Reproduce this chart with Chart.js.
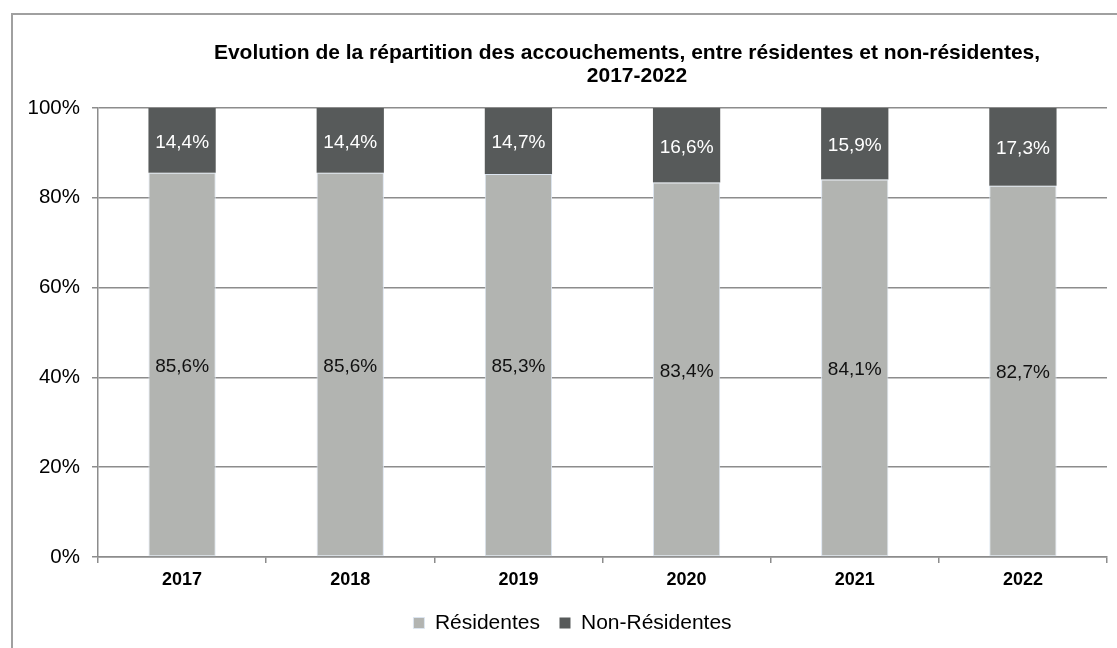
<!DOCTYPE html>
<html>
<head>
<meta charset="utf-8">
<script src="https://cdn.jsdelivr.net/npm/chart.js@4.4.0/dist/chart.umd.min.js"></script>
<style>
    body { margin: 0; background: #fff; }
    .cadre { position: absolute; left: 11px; top: 13px; width: 1120px; height: 650px; border-left: 2px solid #a0a0a0; border-top: 2px solid #a0a0a0; }
    .zone { position: absolute; left: 0; top: 0; width: 1117px; height: 648px; }
</style>
</head>
<body>
<div class="cadre"></div>
<div class="zone"><canvas class="accouchementsChart"></canvas></div>
<script>
const annees = ['2017', '2018', '2019', '2020', '2021', '2022'];
const residentes = [85.6, 85.6, 85.3, 83.4, 84.1, 82.7];
const nonResidentes = [14.4, 14.4, 14.7, 16.6, 15.9, 17.3];
const graduations = [0, 20, 40, 60, 80, 100];
const titreLignes = ['Evolution de la répartition des accouchements, entre résidentes et non-résidentes,', '2017-2022'];

const police = '"Liberation Sans", Arial, sans-serif';
const chartDOM = document.querySelector('.accouchementsChart');

const formatPourcent = (v) => v.toFixed(1).replace('.', ',') + '%';

// titre dessiné à la main pour le décaler comme dans Excel
const titrePlugin = {
    id: 'titre',
    afterLayout(chart) {
        // légende centrée sur la zone du graphique, pas sur tout le canvas
        if (chart.legend) {
            chart.legend.left += 38;
        }
    },
    afterDraw(chart) {
        const ctx = chart.ctx;
        ctx.save();
        ctx.fillStyle = '#000';
        ctx.font = 'bold 21px ' + police;
        ctx.textAlign = 'center';
        ctx.textBaseline = 'alphabetic';
        ctx.fillText(titreLignes[0], 627, 59);
        ctx.fillText(titreLignes[1], 637, 82);
        ctx.restore();
    }
};

// étiquettes de valeurs au centre de chaque segment
const etiquettesPlugin = {
    id: 'etiquettes',
    afterDatasetsDraw(chart) {
        const ctx = chart.ctx;
        ctx.save();
        ctx.font = '19px ' + police;
        ctx.textAlign = 'center';
        ctx.textBaseline = 'middle';
        chart.data.datasets.forEach((ds, i) => {
            const meta = chart.getDatasetMeta(i);
            ctx.fillStyle = i === 0 ? '#111' : '#fff';
            meta.data.forEach((bar, j) => {
                const { x, y, base } = bar.getProps(['x', 'y', 'base'], true);
                ctx.fillText(formatPourcent(ds.data[j]), x, (y + base) / 2 + 2);
            });
        });
        ctx.restore();
    }
};

const config = {
    type: 'bar',
    data: {
        labels: annees,
        datasets: [{
            label: 'Résidentes',
            data: residentes,
            backgroundColor: '#b2b4b1',
            borderColor: '#dce5f0',
            borderWidth: 1,
            borderSkipped: false,
            categoryPercentage: 1,
            barPercentage: 0.4
        }, {
            label: 'Non-Résidentes',
            data: nonResidentes,
            backgroundColor: '#575a5a',
            borderWidth: 0,
            categoryPercentage: 1,
            barPercentage: 0.4
        }]
    },
    options: {
        responsive: true,
        maintainAspectRatio: false,
        animation: false,
        layout: { padding: { left: 0, right: 10, top: 108, bottom: 4.5 } },
        plugins: {
            title: { display: false },
            tooltip: { enabled: false },
            legend: {
                position: 'bottom',
                labels: {
                    color: '#000',
                    font: { family: police, size: 21 },
                    boxWidth: 11,
                    boxHeight: 11,
                    padding: 19.5
                }
            }
        },
        scales: {
            x: {
                stacked: true,
                grid: { display: true, drawOnChartArea: false, drawTicks: true, tickLength: 6, offset: true, color: '#8c8c8c', lineWidth: 1.5 },
                border: { display: true, color: '#8c8c8c', width: 1.5 },
                ticks: { color: '#000', font: { family: police, size: 18, weight: 'bold' }, padding: 6 },
                afterFit: (s) => { s.height = 36; }
            },
            y: {
                stacked: true,
                min: 0,
                max: 100,
                afterBuildTicks: (s) => { s.ticks = graduations.map(v => ({ value: v })); },
                grid: { color: '#8c8c8c', lineWidth: 1.5, tickLength: 6 },
                border: { display: true, color: '#8c8c8c', width: 1.5 },
                ticks: { color: '#000', font: { family: police, size: 20.5 }, padding: 12, callback: (v) => v + '%' },
                afterFit: (s) => { s.width = 98; }
            }
        }
    },
    plugins: [titrePlugin, etiquettesPlugin]
};

new Chart(chartDOM, config);
</script>
</body>
</html>
